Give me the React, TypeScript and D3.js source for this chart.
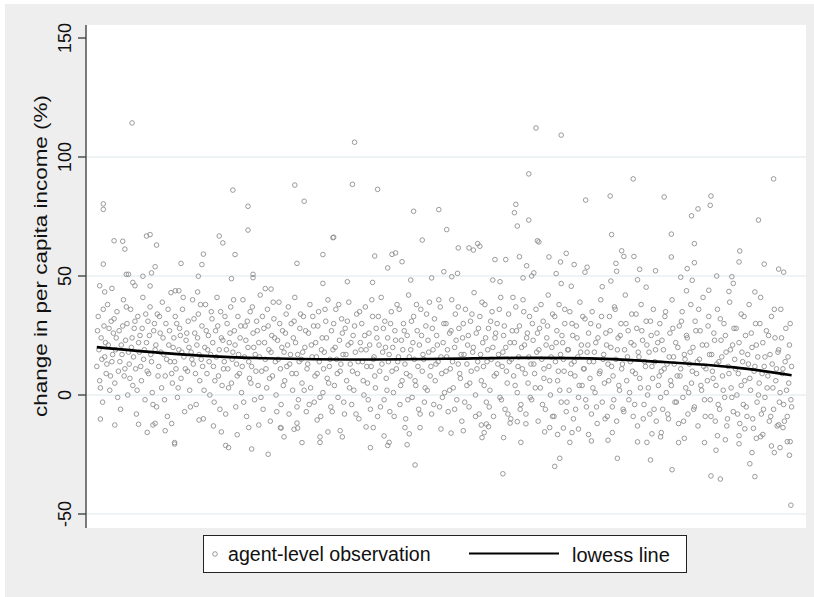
import React from 'react';
import * as d3 from 'd3';

// observations above the main cloud (x = agent position, y = change in %)
const highObs: [number, number][] = [
  [6.4,114.3],[20.4,86.1],[29.0,88.2],[62.5,112.2],[66.0,109.2],[61.5,92.9],[76.0,90.8],[69.4,81.9],[72.8,83.6],[80.3,83.2],[86.8,83.6],[95.5,90.8],
  [30.3,81.4],[2.4,80.3],[2.4,78.0],[22.5,79.3],[22.5,69.3],[3.9,64.8],[5.1,64.6],[5.4,61.3],[8.4,66.8],[8.9,67.4],[9.8,63.0],[18.5,66.8],[19.0,63.9],[2.4,55.0],[20.7,59.0],[16.3,59.2],[16.1,54.8],[13.2,55.3],[9.6,53.9],[9.1,51.3],[29.3,55.3],[32.9,59.0],[5.6,50.7],[5.9,50.7],[7.9,49.9],[15.6,49.9],[20.2,48.9],[23.2,50.7],[23.2,49.3],[1.9,45.9],[6.5,47.3],[6.8,45.9],[8.9,45.8],[32.9,46.9],[2.6,43.3],[3.6,44.8],[12.4,43.8],[12.9,43.8],[15.5,43.3],[24.9,44.7],[25.7,44.5],
  [37.3,106.2],[37.0,88.5],[40.5,86.4],[45.5,77.2],[49.0,77.9],[59.7,80.1],[59.5,76.6],[59.9,71.0],[61.5,73.5],[50.1,69.5],[34.3,66.1],[34.4,66.3],[46.7,65.1],[62.7,64.8],[62.9,64.3],[51.7,61.8],[53.2,61.8],[53.8,60.9],[54.4,63.6],[54.7,62.5],[40.1,58.4],[42.5,59.1],[43.0,59.7],[43.9,56.0],[41.9,53.4],[56.8,56.9],[58.3,56.9],[60.2,58.1],[61.2,54.3],[64.3,58.0],[65.9,55.9],[66.7,59.5],[67.8,54.8],[49.7,51.8],[50.8,49.7],[51.6,51.1],[48.0,49.2],[65.3,51.0],[62.2,51.3],[61.9,50.0],[60.7,49.2],[45.1,48.3],[36.3,47.6],[39.8,47.3],[56.5,48.3],[57.5,47.6],[66.0,46.8],[67.4,45.7],
  [86.7,79.7],[85.0,78.2],[84.1,75.3],[93.4,73.5],[73.0,67.4],[81.3,67.6],[84.5,63.6],[74.4,60.6],[74.7,58.2],[76.1,58.2],[81.3,58.0],[90.8,60.5],[90.7,55.9],[84.5,55.6],[73.6,55.3],[94.2,55.0],[69.6,53.7],[69.3,51.6],[73.7,52.0],[76.9,52.8],[79.1,52.2],[83.5,53.1],[96.2,52.9],[96.9,51.6],[82.6,49.5],[87.6,50.0],[89.7,49.7],[89.9,46.9],[84.2,48.2],[76.6,48.4],[72.9,47.9],[71.7,45.5],[77.8,45.3],[83.4,43.8],[86.5,44.0],[89.3,43.5],[92.9,43.3],
];

// observations below the main cloud
const lowObs: [number, number][] = [
  [2.0,-10.1],[4.0,-12.6],[7.3,-12.3],[8.5,-15.7],[9.3,-12.6],[9.6,-11.9],[11.0,-15.0],[11.9,-12.0],[12.3,-20.0],[12.3,-20.6],[15.7,-10.5],[17.7,-13.0],[18.8,-15.5],[19.4,-21.2],[19.8,-22.1],[21.0,-16.7],[23.0,-22.7],[25.3,-24.9],[22.6,-13.7],[24.0,-12.6],[27.5,-17.6],[27.0,-13.7],[27.1,-13.9],[30.0,-20.0],[28.9,-14.4],[29.4,-13.9],[32.5,-17.6],[32.5,-19.9],[29.3,-11.8],[32.1,-10.5],
  [33.6,-15.5],[35.6,-17.6],[35.3,-15.0],[39.5,-22.1],[38.9,-13.4],[39.9,-13.7],[41.4,-17.2],[41.9,-21.2],[42.1,-19.9],[44.6,-20.9],[44.9,-16.3],[44.3,-13.7],[45.7,-29.4],[46.4,-13.7],[49.3,-14.3],[50.7,-16.0],[52.4,-15.0],[55.0,-17.9],[55.3,-15.8],[58.0,-17.9],[57.9,-33.1],[60.4,-19.9],[58.9,-11.8],[59.9,-11.2],[61.1,-12.1],[63.7,-15.5],[65.5,-16.6],[65.8,-26.6],[65.1,-30.0],[64.4,-13.7],[66.3,-13.9],[55.9,-13.3],[55.6,-12.2],[54.9,-12.6],
  [67.2,-19.9],[70.2,-19.3],[72.5,-19.0],[73.8,-26.6],[76.6,-19.7],[77.9,-19.9],[78.4,-27.3],[81.4,-31.4],[82.3,-20.0],[83.1,-18.2],[85.9,-20.0],[86.8,-34.0],[88.1,-35.3],[87.5,-23.2],[88.8,-18.8],[90.7,-20.5],[92.5,-24.2],[92.2,-28.9],[92.9,-34.3],[95.2,-21.4],[95.6,-24.2],[96.4,-22.1],[97.4,-19.6],[97.8,-19.6],[97.7,-25.3],[97.9,-46.3],[79.8,-17.6],[79.9,-15.8],[93.1,-18.2],[93.7,-17.5],[94.0,-16.6],[67.5,-15.8],[68.4,-14.3],[69.8,-16.6],[73.1,-15.8],[78.6,-16.3],[91.5,-14.2],[96.8,-13.7],[96.2,-12.5],[87.7,-17.1],[90.7,-17.1],
];

// the dense cloud between about -12 and 43, first pass
const bandObs: [number, number][] = [
  [1.5,12],[1.7,33],[1.9,6],[2.1,24],[2.3,-3],[2.5,29],[2.6,16],[2.8,9],[3.0,38],[3.1,21],[3.3,2],[3.5,31],[3.6,14],[3.8,26],[4.0,5],[4.1,19],[4.3,35],[4.5,10],[4.6,27],[4.8,-6],[5.0,17],[5.2,40],[5.3,8],[5.5,23],[5.7,30],[5.8,0],[6.0,13],[6.2,36],[6.3,20],[6.5,4],[6.7,28],[6.9,11],[7.0,-8],[7.2,33],[7.4,18],[7.5,25],[7.7,6],[7.9,41],[8.0,15],[8.2,-2],[8.4,22],[8.6,31],[8.7,9],[8.9,37],[9.1,14],[9.2,1],[9.4,27],[9.6,19],[9.8,-5],[9.9,34],
  [10.1,12],[10.3,26],[10.5,3],[10.6,39],[10.8,17],[11.0,8],[11.1,30],[11.3,-9],[11.5,21],[11.7,14],[11.8,43],[12.0,5],[12.2,24],[12.4,33],[12.5,11],[12.7,-1],[12.9,19],[13.0,28],[13.2,7],[13.4,36],[13.6,16],[13.7,-7],[13.9,23],[14.1,10],[14.2,31],[14.4,2],[14.6,18],[14.8,40],[14.9,13],[15.1,26],[15.3,-4],[15.4,21],[15.6,34],[15.8,6],[16.0,15],[16.1,29],[16.3,-10],[16.5,20],[16.6,38],[16.8,9],[17.0,25],[17.2,0],[17.3,17],[17.5,32],[17.7,12],[17.8,-3],[18.0,27],[18.2,41],[18.4,8],[18.5,19],[18.7,35],[18.9,4],[19.0,23],[19.2,14],[19.4,-8],[19.6,30],[19.7,11],[19.9,22],
  [20.1,37],[20.2,5],[20.4,18],[20.6,27],[20.8,-5],[20.9,13],[21.1,33],[21.3,9],[21.4,24],[21.6,1],[21.8,40],[22.0,16],[22.1,29],[22.3,-9],[22.5,20],[22.7,7],[22.8,35],[23.0,12],[23.2,26],[23.4,-2],[23.5,17],[23.7,31],[23.9,4],[24.0,22],[24.2,42],[24.4,10],[24.6,-6],[24.7,28],[24.9,15],[25.1,3],[25.2,36],[25.4,19],[25.6,-11],[25.8,25],[25.9,8],[26.1,32],[26.3,14],[26.4,0],[26.6,23],[26.8,39],[27.0,11],[27.1,-4],[27.3,27],[27.5,18],[27.6,6],[27.8,34],[28.0,21],[28.2,-8],[28.3,13],[28.5,30],[28.7,2],[28.8,24],[29.0,41],[29.2,9],[29.4,17],[29.5,-2],[29.7,28],[29.9,15],
  [30.0,5],[30.2,33],[30.4,20],[30.6,-7],[30.7,11],[30.9,26],[31.1,38],[31.2,3],[31.4,16],[31.6,29],[31.7,-3],[31.9,22],[32.1,9],[32.3,35],[32.4,14],[32.6,-9],[32.8,24],[32.9,1],[33.1,18],[33.3,31],[33.5,7],[33.6,40],[33.8,12],[34.0,-5],[34.1,27],[34.3,19],[34.5,4],[34.7,36],[34.8,15],[35.0,-1],[35.2,23],[35.3,10],[35.5,32],[35.7,17],[35.9,-8],[36.0,28],[36.2,6],[36.4,21],[36.5,39],[36.7,13],[36.9,-4],[37.1,25],[37.2,2],[37.4,18],[37.6,34],[37.7,9],[37.9,-10],[38.1,22],[38.3,30],[38.4,14],[38.6,0],[38.8,37],[38.9,19],[39.1,5],[39.3,26],[39.5,-6],[39.6,12],[39.8,33],
  [40.0,16],[40.2,3],[40.3,28],[40.5,-9],[40.7,21],[40.8,10],[41.0,41],[41.2,18],[41.4,-2],[41.5,31],[41.7,7],[41.9,24],[42.0,14],[42.2,-7],[42.4,35],[42.6,20],[42.7,1],[42.9,27],[43.1,11],[43.2,38],[43.4,16],[43.6,-4],[43.8,23],[43.9,6],[44.1,30],[44.3,13],[44.4,-10],[44.6,25],[44.8,42],[45.0,8],[45.1,19],[45.3,-1],[45.5,33],[45.6,15],[45.8,4],[46.0,27],[46.2,-6],[46.3,21],[46.5,36],[46.7,10],[46.8,17],[47.0,-3],[47.2,29],[47.4,2],[47.5,23],[47.7,39],[47.9,12],[48.0,-8],[48.2,19],[48.4,32],[48.5,6],[48.7,25],[48.9,14],[49.1,-5],[49.2,37],[49.4,9],[49.6,22],[49.8,1],
  [50.0,30],[50.1,16],[50.3,-7],[50.5,26],[50.6,11],[50.8,40],[51.0,3],[51.2,20],[51.3,34],[51.5,-2],[51.7,13],[51.8,28],[52.0,7],[52.2,-11],[52.3,24],[52.5,17],[52.7,36],[52.9,4],[53.0,21],[53.2,-5],[53.4,31],[53.5,10],[53.7,18],[53.9,43],[54.1,0],[54.2,26],[54.4,14],[54.6,-8],[54.7,33],[54.9,6],[55.1,22],[55.2,12],[55.4,38],[55.6,-3],[55.8,19],[55.9,28],[56.1,2],[56.3,15],[56.4,35],[56.6,-9],[56.8,24],[57.0,9],[57.1,30],[57.3,17],[57.5,-1],[57.6,41],[57.8,12],[58.0,25],[58.2,-6],[58.3,20],[58.5,5],[58.7,34],[58.8,14],[59.0,-10],[59.2,27],[59.4,8],[59.5,22],[59.7,37],
  [59.9,1],[60.1,16],[60.2,29],[60.4,-4],[60.6,11],[60.7,40],[60.9,21],[61.1,-8],[61.3,26],[61.4,5],[61.6,33],[61.8,13],[61.9,-2],[62.1,23],[62.3,9],[62.5,36],[62.6,18],[62.8,-11],[63.0,28],[63.1,3],[63.3,15],[63.5,31],[63.6,7],[63.8,-6],[64.0,24],[64.2,42],[64.3,12],[64.5,0],[64.7,20],[64.8,34],[65.0,-9],[65.2,14],[65.4,27],[65.5,6],[65.7,38],[65.9,17],[66.0,-3],[66.2,22],[66.4,10],[66.5,30],[66.7,-7],[66.9,19],[67.1,2],[67.2,35],[67.4,13],[67.6,25],[67.7,-10],[67.9,8],[68.1,29],[68.3,16],[68.4,-1],[68.6,39],[68.8,21],[68.9,4],[69.1,11],[69.3,32],[69.5,-5],[69.6,18],
  [69.8,26],[70.0,7],[70.2,-8],[70.3,35],[70.5,14],[70.7,1],[70.8,22],[71.0,-12],[71.2,29],[71.4,10],[71.5,40],[71.7,-3],[71.9,17],[72.0,5],[72.2,26],[72.4,-9],[72.5,13],[72.7,33],[72.9,20],[73.1,-5],[73.2,8],[73.4,37],[73.6,15],[73.7,-11],[73.9,24],[74.1,2],[74.3,30],[74.4,11],[74.6,-6],[74.8,19],[74.9,42],[75.1,6],[75.3,27],[75.4,-2],[75.6,14],[75.8,34],[76.0,-9],[76.1,21],[76.3,9],[76.5,28],[76.6,-13],[76.8,16],[77.0,3],[77.1,38],[77.3,23],[77.5,-4],[77.7,12],[77.8,31],[78.0,0],[78.2,18],[78.3,-8],[78.5,25],[78.7,7],[78.8,36],[79.0,14],[79.2,-11],[79.4,22],[79.5,4],
  [79.7,30],[79.9,10],[80.1,-6],[80.2,19],[80.4,33],[80.6,1],[80.7,13],[80.9,-10],[81.1,26],[81.2,6],[81.4,40],[81.6,16],[81.8,-3],[81.9,22],[82.1,8],[82.3,-12],[82.4,29],[82.6,11],[82.8,35],[82.9,-1],[83.1,17],[83.3,3],[83.5,24],[83.6,-8],[83.8,13],[84.0,38],[84.1,5],[84.3,20],[84.5,-5],[84.6,31],[84.8,9],[85.0,-13],[85.2,15],[85.3,27],[85.5,2],[85.7,41],[85.8,12],[86.0,-9],[86.2,21],[86.3,6],[86.5,33],[86.7,-2],[86.9,17],[87.0,10],[87.2,26],[87.4,-11],[87.5,4],[87.7,36],[87.9,14],[88.0,-6],[88.2,23],[88.4,8],[88.6,30],[88.7,-1],[88.9,18],[89.1,-10],[89.2,12],[89.4,39],
  [89.6,3],[89.8,21],[89.9,-7],[90.1,15],[90.3,28],[90.4,0],[90.6,9],[90.8,-12],[91.0,34],[91.1,18],[91.3,-4],[91.5,6],[91.6,25],[91.8,-9],[92.0,13],[92.1,38],[92.3,2],[92.5,20],[92.7,-14],[92.8,10],[93.0,30],[93.2,-3],[93.3,16],[93.5,5],[93.7,41],[93.8,-8],[94.0,22],[94.2,12],[94.3,-1],[94.5,27],[94.7,8],[94.9,-11],[95.0,17],[95.2,33],[95.4,3],[95.5,-6],[95.7,24],[95.9,11],[96.0,-13],[96.2,19],[96.4,1],[96.5,36],[96.7,9],[96.9,-4],[97.1,14],[97.2,28],[97.4,-9],[97.6,5],[97.7,21],[97.9,-2],[98.0,12],
];

// dense cloud, second pass (fills the gaps of the first)
const bandObs2: [number, number][] = [
  [1.6,27],[1.8,19],[2.0,3],[2.2,15],[2.4,36],[2.7,22],[2.9,13],[3.2,28],[3.4,8],[3.7,17],[3.9,32],[4.2,24],[4.4,-1],[4.7,14],[4.9,21],[5.1,29],[5.4,11],[5.6,37],[5.9,18],[6.1,7],[6.4,24],[6.6,16],[6.8,31],[7.1,2],[7.3,22],[7.6,12],[7.8,28],[8.1,19],[8.3,34],[8.5,10],[8.8,25],[9.0,17],[9.3,-4],[9.5,30],[9.7,21],[10.0,8],[10.2,33],[10.4,18],[10.7,24],[10.9,-2],[11.2,15],[11.4,36],[11.6,27],[11.9,9],[12.1,20],[12.3,14],[12.6,30],[12.8,3],[13.1,25],[13.3,18],[13.5,41],[13.8,11],[14.0,26],[14.3,20],[14.5,-5],[14.7,15],[15.0,32],[15.2,9],[15.5,24],[15.7,17],[15.9,38],[16.2,12],[16.4,2],[16.7,27],[16.9,19],[17.1,14],[17.4,35],[17.6,22],[17.9,6],[18.1,16],[18.3,29],[18.6,-6],[18.8,24],[19.1,11],[19.3,33],[19.5,19],[19.8,3],
  [20.0,26],[20.3,15],[20.5,40],[20.7,21],[21.0,8],[21.2,17],[21.5,29],[21.7,12],[21.9,-3],[22.2,23],[22.4,31],[22.6,14],[22.9,5],[23.1,37],[23.3,20],[23.6,10],[23.8,27],[24.1,16],[24.3,-1],[24.5,33],[24.8,22],[25.0,11],[25.3,29],[25.5,7],[25.7,18],[26.0,39],[26.2,24],[26.5,-7],[26.7,15],[26.9,30],[27.2,20],[27.4,4],[27.7,26],[27.9,12],[28.1,37],[28.4,17],[28.6,9],[28.9,31],[29.1,22],[29.3,-5],[29.6,14],[29.8,34],
  [30.1,18],[30.3,2],[30.5,27],[30.8,13],[31.0,-4],[31.3,21],[31.5,33],[31.8,8],[32.0,16],[32.2,29],[32.5,-1],[32.7,19],[33.0,11],[33.2,36],[33.4,24],[33.7,5],[33.9,15],[34.2,-7],[34.4,30],[34.6,20],[34.9,9],[35.1,38],[35.4,13],[35.6,26],[35.8,-3],[36.1,17],[36.3,31],[36.6,3],[36.8,22],[37.0,10],[37.3,29],[37.5,-8],[37.8,14],[38.0,35],[38.2,19],[38.5,6],[38.7,25],[39.0,12],[39.2,-2],[39.4,21],[39.7,40],[39.9,15],
  [40.1,8],[40.4,24],[40.6,33],[40.9,-5],[41.1,13],[41.3,28],[41.6,20],[41.8,2],[42.1,17],[42.3,30],[42.5,10],[42.8,-9],[43.0,23],[43.3,14],[43.5,36],[43.7,4],[44.0,19],[44.2,27],[44.5,9],[44.7,-2],[44.9,16],[45.2,31],[45.4,22],[45.7,6],[45.9,38],[46.1,12],[46.4,-8],[46.6,25],[46.9,15],[47.1,3],[47.3,34],[47.6,18],[47.8,8],[48.1,28],[48.3,-4],[48.6,13],[48.8,21],[49.0,40],[49.3,16],[49.5,-1],[49.7,30],
  [50.0,10],[50.2,19],[50.5,2],[50.7,27],[50.9,14],[51.2,-6],[51.4,23],[51.7,37],[51.9,9],[52.1,17],[52.4,30],[52.6,-3],[52.9,13],[53.1,25],[53.3,5],[53.6,34],[53.8,20],[54.1,-9],[54.3,11],[54.5,28],[54.8,17],[55.0,39],[55.3,4],[55.5,24],[55.7,14],[56.0,-5],[56.2,31],[56.5,20],[56.7,8],[56.9,26],[57.2,13],[57.4,36],[57.7,-2],[57.9,18],[58.1,29],[58.4,10],[58.6,-8],[58.9,22],[59.1,15],[59.3,41],[59.6,4],[59.8,27],
  [60.0,12],[60.3,-6],[60.5,20],[60.8,35],[61.0,9],[61.2,24],[61.5,16],[61.7,-1],[62.0,30],[62.2,13],[62.4,3],[62.7,26],[62.9,19],[63.2,38],[63.4,-4],[63.6,11],[63.9,21],[64.1,29],[64.4,6],[64.6,16],[64.8,-9],[65.1,33],[65.3,22],[65.6,10],[65.8,2],[66.1,25],[66.3,15],[66.5,36],[66.8,-3],[67.0,19],[67.3,9],[67.5,30],[67.8,14],[68.0,-6],[68.2,24],[68.5,4],[68.7,18],[69.0,33],[69.2,11],[69.4,-2],[69.7,21],
  [69.9,14],[70.1,30],[70.4,3],[70.6,18],[70.9,-5],[71.1,24],[71.3,9],[71.6,33],[71.8,15],[72.1,-10],[72.3,21],[72.6,6],[72.8,27],[73.0,12],[73.3,-2],[73.5,36],[73.8,19],[74.0,4],[74.2,25],[74.5,13],[74.7,-7],[75.0,30],[75.2,16],[75.5,1],[75.7,22],[75.9,10],[76.2,-4],[76.4,34],[76.7,18],[76.9,7],[77.2,27],[77.4,-10],[77.6,14],[77.9,21],[78.1,3],[78.4,31],[78.6,12],[78.9,-6],[79.1,19],[79.3,26],[79.6,8],[79.8,-1],
  [80.0,23],[80.3,11],[80.5,35],[80.8,-8],[81.0,16],[81.3,4],[81.5,28],[81.7,13],[82.0,-3],[82.2,20],[82.5,8],[82.7,31],[83.0,-11],[83.2,15],[83.4,25],[83.7,1],[83.9,18],[84.2,10],[84.4,-6],[84.7,27],[84.9,14],[85.1,36],[85.4,4],[85.6,21],[85.9,-2],[86.1,11],[86.4,29],[86.6,17],[86.8,-9],[87.1,7],[87.3,23],[87.6,13],[87.8,-4],[88.1,32],[88.3,16],[88.5,2],[88.8,25],[89.0,-13],[89.3,9],[89.5,19],[89.7,-1],
  [90.0,28],[90.2,11],[90.5,-8],[90.7,22],[91.0,4],[91.2,14],[91.4,33],[91.7,-5],[91.9,17],[92.2,7],[92.4,26],[92.6,-10],[92.9,12],[93.1,21],[93.4,0],[93.6,30],[93.9,9],[94.1,-6],[94.3,16],[94.6,3],[94.8,25],[95.1,-9],[95.3,13],[95.6,36],[95.8,6],[96.1,18],[96.3,-3],[96.6,24],[96.8,11],[97.0,-11],[97.3,2],[97.5,16],[97.8,30],[98.0,-5],
];

// lowess fit
const lowessX = [1.5, 10, 20, 30, 40, 50, 60, 70, 80, 90, 98];
const lowessY = [20.1, 17.8, 15.9, 15.1, 14.9, 15.2, 15.6, 15.4, 13.9, 11.6, 8.3];

const yTicks = [-50, 0, 50, 100, 150];
const gridTicks = [-50, 0, 50, 100];

const W = 814;
const H = 597;
const plot = { left: 86, right: 806, top: 25, bottom: 528 };

export default function App() {
  const x = d3.scaleLinear().domain([0, 100]).range([plot.left, plot.right]);
  const y = d3.scaleLinear().domain([-50, 150]).range([514, 38]);

  const observations = [...bandObs, ...bandObs2, ...highObs, ...lowObs];
  const lowess = d3.line<number>()
    .x((d, i) => x(lowessX[i]))
    .y(d => y(d))
    .curve(d3.curveCatmullRom)(lowessY);

  const font = 'Arial, "Liberation Sans", Helvetica, sans-serif';

  return (
    <svg width={W} height={H} style={{ position: 'absolute', left: 0, top: 0 }} fontFamily={font}>
      <rect x={0} y={0} width={W} height={H} fill="#ffffff" />
      <rect x={5} y={4} width={W - 5} height={H - 4} fill="#eeeeee" />
      <rect x={plot.left} y={plot.top} width={plot.right - plot.left} height={plot.bottom - plot.top} fill="#ffffff" />

      {gridTicks.map(t => (
        <line key={t} x1={plot.left} x2={plot.right} y1={y(t)} y2={y(t)} stroke="#e9f1f2" strokeWidth={1.6} />
      ))}

      <g fill="none" stroke="#8e8e8e" strokeWidth={0.9}>
        {observations.map((d, i) => (
          <circle key={i} cx={x(d[0])} cy={y(d[1])} r={2.3} />
        ))}
      </g>

      <path d={lowess || ''} fill="none" stroke="#000" strokeWidth={2.6} />

      {/* y axis */}
      <line x1={plot.left} x2={plot.left} y1={plot.top} y2={plot.bottom} stroke="#444" strokeWidth={1.4} />
      {yTicks.map(t => (
        <g key={t}>
          <line x1={plot.left - 8} x2={plot.left} y1={y(t)} y2={y(t)} stroke="#444" strokeWidth={1.4} />
          <text x={71} y={y(t)} transform={`rotate(-90, 71, ${y(t)})`} textAnchor="middle" fontSize={18} fill="#111">
            {t}
          </text>
        </g>
      ))}
      <text x={47} y={256} transform="rotate(-90, 47, 256)" textAnchor="middle" fontSize={18} fill="#111"
        textLength={322} lengthAdjust="spacingAndGlyphs">
        change in per capita income (%)
      </text>

      {/* legend */}
      <rect x={203.5} y={535.5} width={483} height={37} fill="#fff" stroke="#222" strokeWidth={1} />
      <circle cx={215} cy={554} r={2.3} fill="none" stroke="#8e8e8e" strokeWidth={0.9} />
      <text x={228} y={561} fontSize={19.6} fill="#111">agent-level observation</text>
      <line x1={469} x2={559} y1={553.5} y2={553.5} stroke="#000" strokeWidth={2.2} />
      <text x={572} y={562} fontSize={20} fill="#111">lowess line</text>
    </svg>
  );
}
